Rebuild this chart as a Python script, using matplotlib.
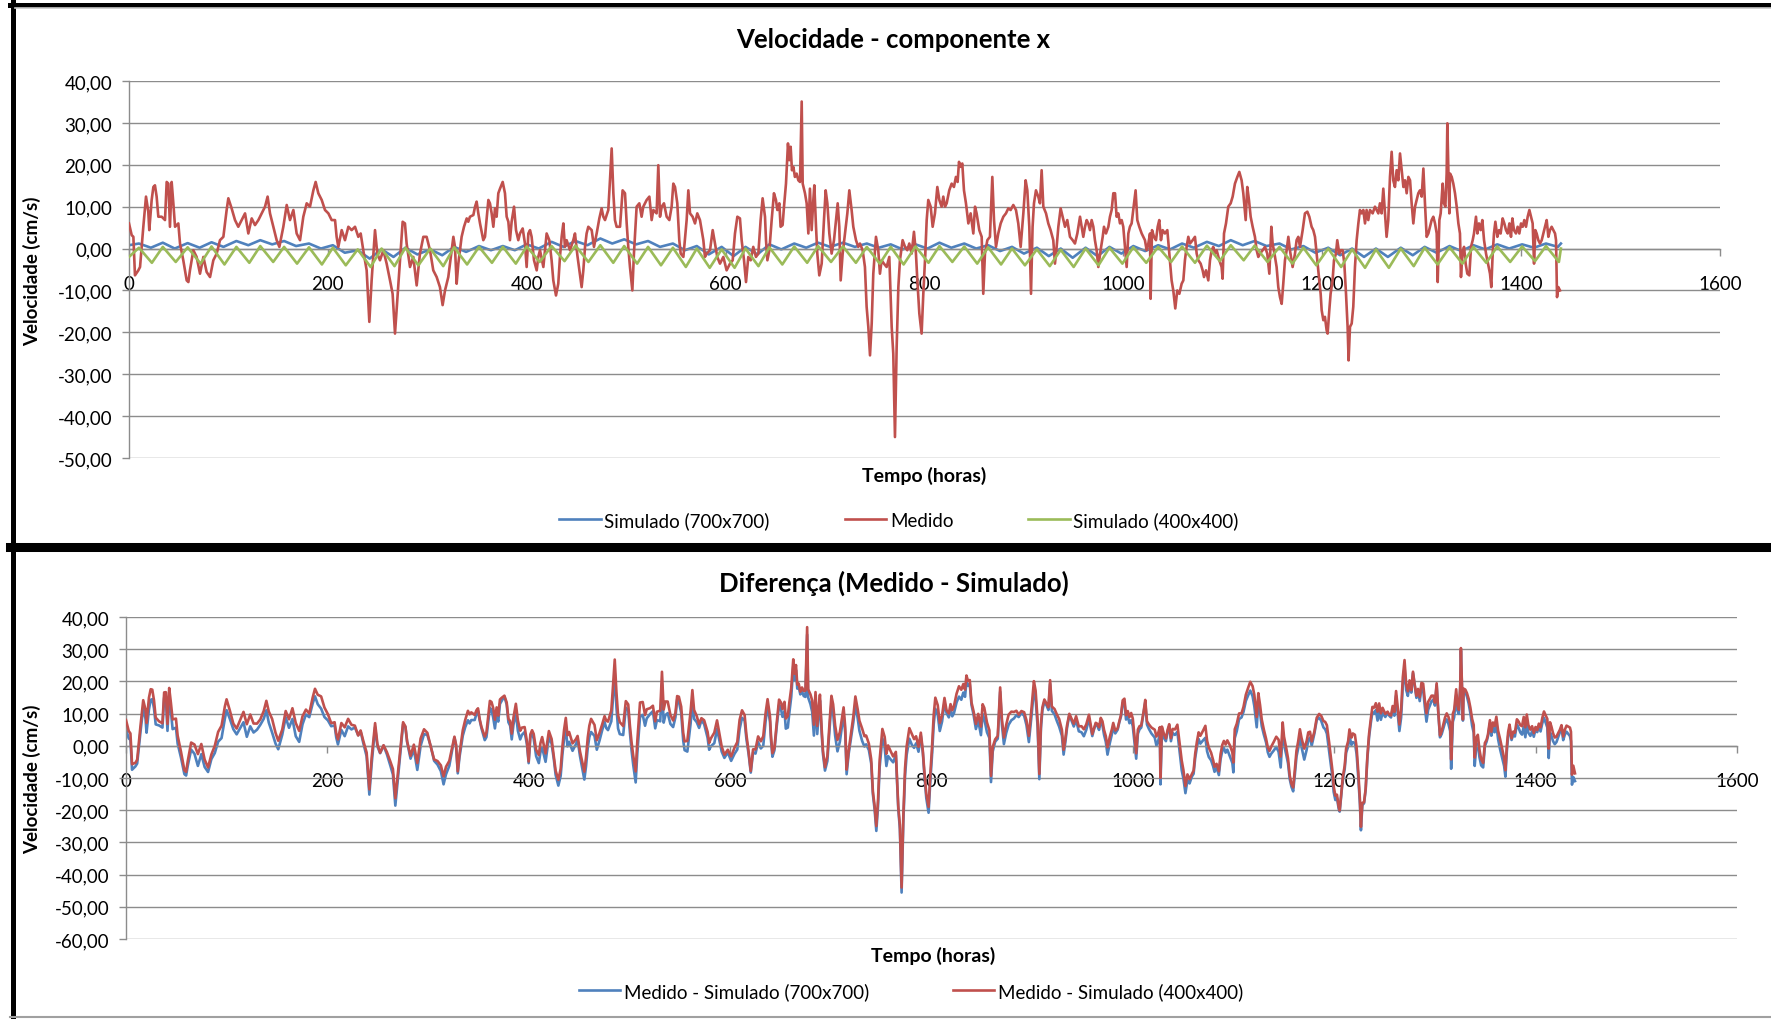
import numpy as np
import matplotlib.pyplot as plt
from matplotlib.lines import Line2D
from matplotlib.ticker import FuncFormatter, MultipleLocator

plt.rcParams['font.family'] = ['Lato', 'DejaVu Sans']

# medições (cm/s) ao longo do tempo (horas)
horas_med = [
    0.0, 2.7, 4.4, 6.0, 9.4, 11.1, 14.4, 17.1, 19.4, 20.4, 22.8, 24.5, 26.1, 27.8, 29.5, 32.9, 36.2, 37.9, 39.6, 41.2,
    42.9, 44.6, 46.3, 49.6, 51.3, 54.6, 58.0, 59.7, 61.3, 64.7, 68.0, 71.4, 74.8, 78.1, 81.5, 84.8, 88.2, 91.5, 94.9, 98.2,
    99.9, 103.2, 106.6, 109.9, 113.3, 116.7, 120.0, 123.4, 126.7, 130.1, 133.4, 136.8, 139.4, 141.8, 145.1, 148.5, 151.2, 155.2, 158.6, 161.9,
    165.3, 168.6, 172.0, 175.3, 178.7, 182.0, 185.4, 187.7, 190.4, 193.8, 197.1, 200.5, 203.8, 207.2, 208.8, 210.5, 213.9, 217.2, 220.6, 223.9,
    227.3, 230.6, 233.0, 235.6, 239.0, 241.7, 244.0, 247.4, 249.7, 252.4, 255.8, 259.1, 262.5, 265.1, 267.5, 269.8, 272.5, 275.2, 277.5, 279.2,
    282.6, 285.9, 289.3, 292.6, 296.0, 299.3, 302.7, 306.0, 309.4, 312.7, 315.4, 317.8, 321.1,
    324.5, 326.2, 327.8, 329.5, 331.2, 334.5, 336.9, 339.6, 341.2, 342.9, 346.3, 348.0, 349.6, 351.3, 353.0, 356.3, 358.0, 361.4, 363.0, 364.7,
    366.4, 368.1, 369.7, 371.4, 373.1, 375.8, 378.1, 379.8, 381.5, 383.1, 384.8, 387.2, 389.2, 391.5, 393.2, 395.9, 398.2, 399.9, 401.6, 403.3,
    404.9, 407.3, 410.0, 411.6, 413.3, 416.7, 420.0, 422.7, 425.0, 426.7, 429.4, 431.7, 433.4, 435.1, 436.8, 438.4, 440.1, 443.5, 446.8, 448.5,
    450.9, 452.9, 455.2, 456.9, 458.6, 460.2, 461.9, 465.3, 467.6, 470.3, 473.0, 475.3, 477.0, 478.7, 482.0, 483.7, 485.4, 487.1, 488.7, 490.4,
    493.8, 496.4, 498.8, 500.5, 502.1, 503.8, 506.2, 507.8, 510.5, 513.2, 515.5, 517.2, 520.6, 523.3, 525.6, 527.3, 530.6, 532.3, 534.0, 535.7,
    538.0, 540.7, 543.4, 545.7, 547.4, 549.1, 551.4, 553.4, 554.8, 557.5, 560.8, 562.5, 564.2, 566.8, 569.2, 571.5, 574.2, 577.6, 579.2, 580.9,
    584.3, 587.0, 589.3, 591.6, 594.3, 597.7, 601.0, 604.4, 607.1, 609.4, 611.8, 614.4, 616.1, 618.5, 620.5, 622.8, 625.2, 627.8, 630.5, 632.9,
    635.2, 637.2, 639.6,
    640.6, 642.0, 644.0, 646.3, 648.6, 650.6, 652.0, 654.0, 655.3, 657.3, 658.7, 660.7, 662.7, 664.0, 665.4, 666.7, 668.1, 669.7, 671.4, 673.1,
    674.8, 676.5, 677.5, 679.8, 681.5, 683.2, 684.8, 686.5, 688.2, 689.2, 690.9, 692.2, 694.2, 696.6, 698.9, 700.6, 702.3, 704.3, 706.6, 709.0,
    711.0, 712.7, 714.3, 715.7, 717.7, 720.0, 722.4, 724.4, 726.7, 728.4, 731.1, 733.4, 735.1, 737.8, 740.1, 741.8, 743.5, 745.2, 746.9, 748.5,
    751.2, 753.5, 755.2, 756.9, 759.2, 761.9, 764.6, 767.0, 768.6, 770.3, 772.0, 773.7, 775.3, 778.0, 780.4, 782.7, 784.7, 787.1, 789.4, 791.4,
    792.8, 794.8, 797.1, 798.8, 800.5, 802.2, 803.8, 806.2, 808.2, 810.5, 812.9, 814.9, 817.2, 818.9, 820.6, 822.3, 824.9, 827.3, 829.6, 831.6,
    833.3, 834.7, 836.3, 838.0, 839.7, 841.7, 844.1, 846.4, 849.1, 850.8, 852.4, 855.1, 857.5, 859.1, 860.8, 863.2, 865.8, 868.2, 869.9, 871.9,
    874.2, 876.6, 879.3, 881.9, 884.3, 886.6, 889.3, 892.0, 894.3, 896.7, 899.4, 901.7, 903.4, 905.4, 907.1, 908.7, 910.1, 912.1, 914.4, 916.1,
    917.8, 919.5, 922.2, 924.5, 926.8, 929.5, 931.2, 932.9, 934.6, 936.9, 938.9, 941.3, 943.6, 946.3, 949.0, 951.3, 953.7,
    956.4, 958.0, 959.7, 961.4, 963.1, 964.7, 966.4, 968.1, 969.8, 971.4, 973.1, 974.8, 977.1, 979.2, 980.5, 982.5, 984.9, 986.5, 988.2, 989.9,
    991.6, 993.2, 994.9, 996.6, 998.3, 999.9, 1001.6, 1003.3, 1005.0, 1006.6, 1008.3, 1010.7, 1012.3, 1014.0, 1016.0, 1018.4, 1020.0, 1021.7, 1023.4, 1025.1,
    1026.8, 1027.4, 1028.8, 1030.8, 1032.8, 1034.5, 1036.1, 1037.8, 1039.5, 1041.8, 1044.2, 1046.2, 1048.5, 1050.2, 1052.2, 1054.2, 1056.3, 1058.6, 1060.3, 1061.9,
    1063.6, 1065.3, 1067.0, 1069.7, 1072.0, 1073.7, 1075.4, 1077.7, 1079.7, 1081.1, 1083.1, 1085.4, 1087.1, 1088.8, 1090.4, 1092.1, 1093.8, 1096.5, 1098.8, 1099.8,
    1101.2, 1103.2, 1105.5, 1107.9, 1109.9, 1112.2, 1114.6, 1116.6, 1118.9, 1120.6, 1123.0, 1124.6, 1126.3, 1128.0, 1130.0, 1132.3, 1134.0, 1135.7, 1137.4, 1140.1,
    1142.4, 1144.7, 1146.8, 1148.8, 1150.1, 1152.5, 1154.1, 1155.8, 1157.5, 1159.2, 1160.8, 1162.5, 1164.2, 1165.9, 1167.5, 1170.2, 1172.6, 1174.2, 1175.9, 1177.6,
    1180.3, 1182.6, 1185.0, 1187.0, 1189.3, 1191.0, 1192.7, 1195.0, 1197.0, 1198.4, 1199.4, 1201.1, 1202.7, 1204.4, 1205.4, 1207.1, 1208.4, 1210.4, 1211.8, 1213.8,
    1215.1, 1217.1, 1218.5, 1220.5, 1222.2, 1223.9, 1225.5, 1226.5, 1227.9, 1229.6, 1231.2, 1232.9, 1234.6, 1236.3, 1237.9, 1239.6, 1241.3, 1243.0, 1244.6, 1246.3,
    1248.0, 1250.7, 1253.0, 1254.7, 1256.4, 1258.0, 1259.7, 1261.4, 1263.1, 1264.7, 1266.4, 1268.1, 1269.8, 1271.4, 1273.1, 1274.8, 1276.5,
    1278.2, 1279.9, 1281.6, 1283.2, 1284.9, 1286.6, 1288.3, 1289.9, 1291.6, 1293.3, 1295.0, 1296.6, 1298.3, 1300.0, 1301.7, 1303.3, 1305.0, 1306.7, 1308.4, 1310.0,
    1311.7, 1313.4, 1315.1, 1316.1, 1317.8, 1319.1, 1321.1, 1322.4, 1323.8, 1325.1, 1325.8, 1326.8, 1327.8, 1328.5, 1330.2, 1331.8, 1333.5, 1335.2, 1336.9, 1338.5,
    1339.5, 1340.9, 1342.6, 1344.2, 1345.9, 1347.9, 1349.6, 1351.3, 1352.6, 1354.6, 1356.0, 1357.6, 1359.3, 1361.0, 1362.7, 1364.7, 1366.0, 1367.4, 1368.7, 1370.0,
    1371.4, 1372.7, 1374.1, 1376.1, 1377.8, 1379.4, 1381.4, 1383.1, 1384.8, 1386.5, 1388.2, 1389.8, 1391.2, 1392.8, 1394.8, 1396.5, 1398.2, 1399.9, 1401.6, 1403.2,
    1404.9, 1406.6, 1408.3, 1409.9, 1411.6, 1413.0, 1414.3, 1415.6, 1417.3, 1419.0, 1420.7, 1422.3, 1424.0, 1425.7, 1427.4, 1429.0, 1430.7, 1432.4, 1434.1, 1435.1,
    1436.1, 1437.4, 1439.1,
]
medido = [
    6.0, 3.2, 2.8, -6.4, -5.2, -4.4, 5.2, 12.4, 8.8, 4.4, 11.6, 14.7, 15.1, 12.4, 7.6, 7.6, 6.8, 15.9, 15.5, 5.2,
    15.9, 10.8, 5.2, 6.0, 1.2, -2.8, -7.6, -8.0, -5.2, -0.4, -2.0, -6.0, -2.0, -5.6, -6.8, -2.8, -1.2, 2.0, 2.8, 9.2,
    12.0, 9.6, 6.8, 5.2, 6.8, 8.4, 3.6, 7.2, 5.6, 6.8, 8.4, 10.0, 12.4, 8.4, 5.2, 2.0, 0.4, 5.2, 10.4, 6.8,
    9.2, 3.6, 2.0, 7.6, 10.8, 10.0, 13.9, 15.9, 13.2, 11.6, 9.2, 8.4, 6.8, 6.8, 2.8, 0.4, 4.4, 2.0, 5.2, 4.4,
    5.2, 2.8, 3.6, -0.4, -5.2, -17.5, -7.6, 4.4, -1.2, -2.8, -0.4, -3.6, -7.6, -10.8, -20.3, -12.4, -2.8, 6.4, 6.0, 1.2,
    -4.4, -2.0, -8.8, -1.2, 2.8, 2.8, -0.4, -5.2, -6.8, -9.2, -13.5, -10.0, -6.8,
    -0.4, 2.8, 0.4, -8.4, -3.6, 2.8, 5.2, 7.2, 6.4, 7.6, 8.0, 10.0, 11.2, 8.4, 6.0, 2.0, 2.8, 11.6, 10.8, 8.4,
    5.2, 9.6, 7.6, 13.2, 14.3, 15.9, 13.2, 7.6, 6.4, 2.0, 6.4, 10.0, 4.4, 2.0, 3.6, 4.8, 1.2, -4.4, 3.6, 4.4,
    2.8, -2.8, -5.2, -2.0, -0.4, -4.4, 3.6, 2.0, -2.8, -7.6, -11.2, -8.4, -2.0, 2.8, 6.0, 0.4, 2.0, -0.4, 2.0, 3.6,
    -1.6, -5.2, -9.2, -5.2, 0.4, 3.6, 5.2, 4.4, 0.4, 3.6, 7.2, 9.6, 7.6, 6.8, 9.2, 16.3, 23.9, 13.2, 6.8, 5.2,
    5.2, 13.9, 13.2, 6.0, 0.4, -4.4, -10.0, -1.2, 10.0, 10.8, 7.6, 10.0, 11.6, 12.4, 6.8, 9.2, 8.4, 19.9, 7.6, 10.0,
    10.8, 7.6, 6.8, 10.0, 15.5, 14.7, 10.8, 2.0, -1.2, -2.0, 6.8, 13.9, 8.4, 7.6, 6.0, 8.4, 6.8, 2.0, -2.0, -1.2,
    -0.4, 4.4, 1.2, -2.0, -3.6, -2.0, -5.2, -3.6, -2.8, 3.6, 7.6, 7.2, 2.0, -2.8, -8.0, -2.0, -2.8, 0.4, -2.0, -1.2,
    6.8, 12.0, 7.6,
    2.0, -2.8, -0.4, 6.8, 13.2, 11.6, 9.2, 10.8, 5.2, 5.6, 10.0, 15.5, 25.1, 21.1, 24.3, 18.7, 19.5, 17.1, 17.9, 16.3,
    15.9, 35.1, 15.5, 13.2, 10.8, 3.6, 14.3, 4.4, 11.6, 15.1, 5.2, -1.2, -6.4, -3.6, 6.8, 13.9, 10.8, 3.6, -1.2, 2.0,
    6.8, 10.8, 5.2, -7.6, -1.2, 3.6, 8.4, 13.9, 9.2, 5.2, 2.0, 0.4, 1.2, -0.4, -4.4, -13.9, -18.7, -25.5, -17.9, -6.0,
    2.8, -0.4, -6.0, -2.8, -3.6, -4.4, -2.0, -18.7, -25.1, -45.0, -23.5, -9.2, -2.8, 2.0, 0.4, -0.4, 1.2, -1.2, 4.0, -1.2,
    -7.6, -15.5, -20.3, -10.8, -2.8, 6.8, 11.6, 10.0, 5.2, 8.4, 14.7, 11.6, 10.0, 12.4, 10.0, 10.8, 13.9, 15.5, 14.7, 17.1,
    15.9, 20.7, 19.5, 20.3, 13.9, 10.8, 6.0, 8.4, 3.6, 10.0, 8.4, 4.4, 2.8, -10.8, -1.2, 2.0, 2.8, 17.1, 6.8, 0.4,
    3.6, 6.0, 7.6, 8.4, 9.6, 9.2, 10.4, 9.2, 6.0, 0.4, 8.4, 16.3, 13.9, 5.2, -10.8, 5.2, 10.8, 13.9, 12.4, 10.8,
    18.7, 10.0, 8.4, 6.0, 4.4, 2.0, -3.6, 0.4, 5.2, 9.6, 7.6, 5.2, 6.8, 2.8, 2.0, 1.2, 3.6,
    7.6, 5.2, 2.8, 5.2, 6.8, 6.0, 4.4, 6.8, 5.2, 2.0, -0.4, -4.4, -0.4, 2.8, 5.2, 3.6, 5.2, 7.6, 9.2, 13.2,
    13.2, 7.6, 8.4, 6.0, 6.8, 5.2, 0.4, -4.4, 3.6, 5.2, 6.0, 10.8, 13.9, 6.8, 5.2, 3.6, 2.8, 2.0, -0.4, 1.2,
    3.6, -12.0, 4.4, 2.8, 2.0, 5.2, 6.8, 2.0, 4.4, 3.6, 4.4, -1.2, -7.6, -10.0, -14.3, -10.0, -10.8, -8.4, -7.6, -2.8,
    0.4, 2.8, 1.2, 2.0, 2.8, -1.2, -2.8, -3.6, -5.2, -6.8, -5.2, -7.6, -2.8, -0.4, 0.4, -1.2, -0.4, -2.8, -4.4, -7.2,
    3.6, 6.0, 10.0, 10.8, 12.4, 15.5, 17.1, 18.3, 16.3, 13.2, 6.8, 14.7, 11.6, 7.6, 5.2, 2.8, -0.4, -2.0, -1.2, -0.4,
    0.4, -1.2, -6.0, 5.2, 1.2, -2.0, -4.4, -9.2, -11.6, -13.2, -8.4, -2.8, -0.4, 2.8, -0.4, -4.4, -1.2, 2.0, 2.8, 0.4,
    4.4, 8.4, 8.8, 7.6, 5.2, 4.4, 2.8, -2.8, -7.6, -10.8, -14.7, -17.1, -16.3, -19.5, -20.3, -14.7, -10.8, -7.6, -2.8, -1.2,
    2.0, -1.2, -0.4, -0.4, -3.6, -10.8, -18.7, -26.7, -18.7, -17.9, -13.9, -4.4, 2.0, 6.0, 9.2, 8.4, 9.2, 6.0, 9.2, 6.8,
    9.2, 8.4, 10.0, 9.2, 8.4, 10.8, 8.4, 14.3, 8.4, 2.8, 6.8, 17.1, 23.1, 16.3, 14.7, 18.7, 16.3,
    22.7, 18.7, 14.7, 16.3, 13.2, 17.1, 16.3, 10.8, 6.0, 10.0, 11.6, 13.2, 13.9, 12.4, 19.1, 10.8, 2.8, 3.6, 5.2, 6.8,
    7.6, 6.0, 3.6, -8.0, 6.8, 8.4, 15.5, 10.8, 10.0, 17.9, 29.9, 19.5, 8.4, 17.9, 17.1, 15.5, 13.2, 10.0, 6.0, 3.6,
    -6.8, -1.2, 0.4, -3.6, -6.0, -6.4, 0.4, 2.0, 3.6, 7.6, 3.6, 6.0, 4.4, 6.8, 2.0, -1.2, -2.8, -4.4, -6.0, -9.2,
    -1.2, 3.6, 6.4, 2.8, 4.4, 3.6, 7.2, 6.0, 4.4, 3.6, 6.0, 2.8, 7.2, 4.4, 3.6, 5.2, 3.6, 6.0, 5.2, 6.8,
    5.2, 7.6, 9.2, 7.6, 6.0, -3.6, 4.4, 3.6, 2.0, 1.2, 2.0, 3.6, 5.2, 6.8, 2.8, 4.4, 5.2, 4.4, 3.6, 2.0,
    -11.6, -9.2, -10.0,
]

# simulações: máximos e mínimos de cada ciclo de maré
horas_pico = [10, 34, 59, 83, 108, 132, 156, 181, 205, 230,
              254, 278, 303, 327, 352, 376, 400, 425, 449, 474,
              498, 522, 547, 571, 596, 620, 644, 669, 693, 718,
              742, 766, 791, 815, 840, 864, 888, 913, 937, 962,
              986, 1010, 1035, 1059, 1084, 1108, 1132, 1157, 1181, 1206,
              1230, 1254, 1279, 1303, 1328, 1352, 1376, 1401, 1425]
sim700_max = [1.2, 1.4, 1.3, 1.5, 1.8, 2.0, 1.8, 1.2, 0.8, -0.4,
              -0.2, 0.2, -0.2, 0.4, 0.6, 0.6, 1.0, 1.6, 1.8, 2.4,
              2.2, 1.8, 1.2, 0.6, 0.4, 0.4, 1.0, 1.2, 1.4, 1.4,
              1.2, 1.0, 1.0, 1.4, 1.2, 0.8, 0.4, 0.2, 0.0, 0.2,
              0.4, 0.6, 0.8, 1.2, 1.6, 2.0, 1.8, 1.2, 0.6, 0.2,
              0.0, 0.0, 0.2, 0.4, 0.6, 0.8, 1.0, 1.0, 1.2]
sim700_min = [0.2, 0.0, 0.2, 0.4, 0.8, 1.0, 0.6, 0.0, -1.0, -2.4,
              -2.0, -1.4, -1.6, -0.8, -0.4, -0.4, 0.0, 0.4, 0.8, 1.2,
              1.0, 0.4, -0.4, -1.4, -1.8, -1.4, -0.2, 0.2, 0.4, 0.4,
              0.2, -0.2, 0.0, 0.2, 0.0, -0.6, -1.2, -1.8, -2.2, -1.8,
              -1.2, -0.6, -0.2, 0.2, 0.6, 0.8, 0.6, -0.2, -1.0, -1.6,
              -2.0, -2.0, -1.6, -1.0, -0.6, -0.2, 0.0, 0.2, 0.4]
sim400_max = [0.2, 0.4, 0.3, 0.5, 0.4, 0.6, 0.4, 0.3, 0.2, -0.2,
              0.0, 0.2, 0.0, 0.3, 0.4, 0.4, 0.5, 0.6, 0.7, 0.8,
              0.6, 0.4, 0.2, 0.0, -0.2, 0.0, 0.3, 0.5, 0.6, 0.5,
              0.4, 0.4, 0.5, 0.6, 0.5, 0.3, 0.0, -0.2, -0.3, 0.0,
              0.2, 0.3, 0.4, 0.5, 0.7, 0.8, 0.7, 0.4, 0.2, 0.0,
              -0.2, -0.2, 0.0, 0.2, 0.3, 0.4, 0.5, 0.5, 0.6]
sim400_min = [-3.4, -3.2, -3.6, -3.8, -3.4, -3.2, -3.6, -3.8, -4.0, -4.4,
              -4.2, -4.0, -4.2, -3.8, -3.4, -3.6, -3.2, -3.0, -3.2, -3.4,
              -3.6, -4.0, -4.4, -4.6, -4.6, -4.2, -3.8, -3.4, -3.2, -3.4,
              -3.6, -3.8, -3.4, -3.2, -3.6, -3.8, -4.0, -4.2, -4.4, -4.0,
              -3.6, -3.4, -3.2, -3.4, -3.0, -2.8, -3.2, -3.6, -4.0, -4.4,
              -4.6, -4.6, -4.2, -3.8, -3.6, -3.4, -3.2, -3.0, -3.2]
sim700_ini, sim700_fim = 0.8, 1.2
sim400_ini, sim400_fim = -2.0, 0.0
hora_fim = 1440


def serie_mare(ini, maximos, minimos, fim, atraso):
    t = [0.0]
    v = [ini]
    for h, a, b in zip(horas_pico, maximos, minimos):
        t += [h, h + atraso]
        v += [a, b]
    t.append(hora_fim)
    v.append(fim)
    return np.array(t, float), np.array(v, float)


t700, v700 = serie_mare(sim700_ini, sim700_max, sim700_min, sim700_fim, 12)
t400, v400 = serie_mare(sim400_ini, sim400_max, sim400_min, sim400_fim, 13)

horas_med = np.array(horas_med)
medido = np.array(medido)
dif700 = medido - np.interp(horas_med, t700, v700)
dif400 = medido - np.interp(horas_med, t400, v400)

AZUL = '#4F81BD'
VERMELHO = '#C0504D'
VERDE = '#9BBB59'
GRELHA = '#8C8C8C'
LW = 1.9

W, H = 1771, 1020
fig = plt.figure(figsize=(W / 100, H / 100), dpi=100)


def fx(px):
    return px / W


def fy(py):
    return 1 - py / H


virgula = FuncFormatter(lambda v, p: f'{v:.2f}'.replace('.', ','))


def formatar(ax, ymin, ymax):
    ax.set_xlim(0, 1600)
    ax.set_ylim(ymin, ymax)
    ax.xaxis.set_major_locator(MultipleLocator(200))
    ax.yaxis.set_major_locator(MultipleLocator(10))
    ax.yaxis.set_major_formatter(virgula)
    ax.grid(axis='y', color=GRELHA, lw=1.0)
    ax.set_axisbelow(True)
    for s in ['top', 'right']:
        ax.spines[s].set_visible(False)
    ax.spines['bottom'].set_position(('data', 0))
    for s in ['left', 'bottom']:
        ax.spines[s].set_color(GRELHA)
        ax.spines[s].set_linewidth(1.0)
    ax.tick_params(axis='y', length=5, width=1.0, color=GRELHA, pad=7, labelsize=13.5)
    ax.tick_params(axis='x', length=5, width=1.0, color=GRELHA, pad=14, labelsize=13.5)


# painel superior
ax1 = fig.add_axes([fx(129), fy(459), (1720 - 129) / W, (459 - 82) / H])
formatar(ax1, -50, 40)
ax1.plot(t700, v700, color=AZUL, lw=LW, zorder=2, label='Simulado (700x700)')
ax1.plot(horas_med, medido, color=VERMELHO, lw=LW, zorder=3, label='Medido')
ax1.plot(t400, v400, color=VERDE, lw=LW, zorder=4, label='Simulado (400x400)')
ax1.legend(loc='center', bbox_to_anchor=(fx(899), fy(521)), bbox_transform=fig.transFigure,
           ncol=3, frameon=False, fontsize=13.5, handlelength=2.2, handletextpad=0.2,
           columnspacing=4.0)

fig.text(fx(893), fy(40), 'Velocidade - componente x', ha='center', va='center',
         fontsize=18.5, fontweight='bold')
fig.text(fx(924), fy(476), 'Tempo (horas)', ha='center', va='center',
         fontsize=14, fontweight='bold')
fig.text(fx(32), fy(271), 'Velocidade (cm/s)', ha='center', va='center', rotation=90,
         fontsize=13.5, fontweight='bold')

# painel inferior
ax2 = fig.add_axes([fx(126), fy(940), (1737 - 126) / W, (940 - 618) / H])
formatar(ax2, -60, 40)
ax2.plot(horas_med, dif700, color=AZUL, lw=LW, zorder=2, label='Medido - Simulado (700x700)')
ax2.plot(horas_med, dif400, color=VERMELHO, lw=LW, zorder=3, label='Medido - Simulado (400x400)')
ax2.legend(loc='center', bbox_to_anchor=(fx(911), fy(992)), bbox_transform=fig.transFigure,
           ncol=2, frameon=False, fontsize=13.5, handlelength=2.2, handletextpad=0.2,
           columnspacing=4.5)

fig.text(fx(894), fy(583), 'Diferença (Medido - Simulado)', ha='center', va='center',
         fontsize=18.5, fontweight='bold')
fig.text(fx(933), fy(956), 'Tempo (horas)', ha='center', va='center',
         fontsize=14, fontweight='bold')
fig.text(fx(32), fy(779), 'Velocidade (cm/s)', ha='center', va='center', rotation=90,
         fontsize=13.5, fontweight='bold')

# molduras dos dois gráficos
fig.add_artist(Line2D([fx(12.5), fx(12.5)], [fy(3), 0], color='black', lw=3.6))
fig.add_artist(Line2D([fx(10), 1], [fy(6), fy(6)], color='black', lw=3.6))
fig.add_artist(Line2D([fx(10), 1], [fy(547.5), fy(547.5)], color='black', lw=6.5))
fig.add_artist(Line2D([fx(15), 1], [fy(9), fy(9)], color='#C8C8C8', lw=1.2))
fig.add_artist(Line2D([fx(10), 1], [fy(1018), fy(1018)], color='#A0A0A0', lw=1.5))

fig.savefig('out.png', dpi=100)
